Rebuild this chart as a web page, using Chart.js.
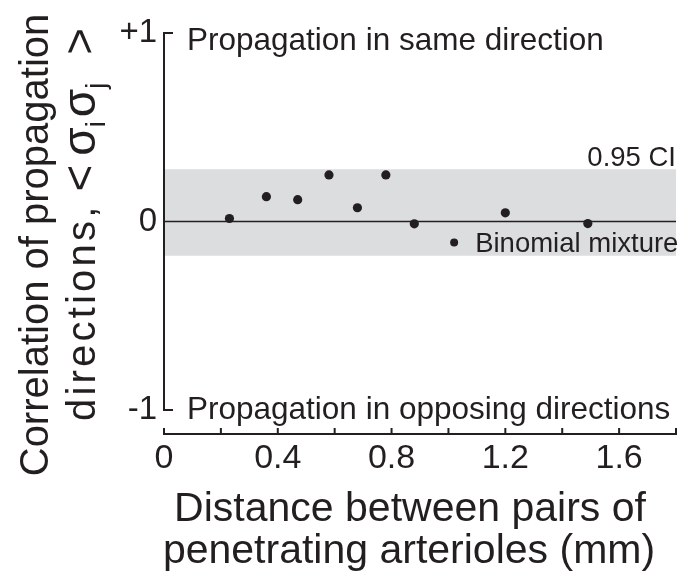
<!DOCTYPE html>
<html><head><meta charset="utf-8">
<script src="https://cdn.jsdelivr.net/npm/chart.js@4/dist/chart.umd.min.js"></script>
<style>html,body{margin:0;padding:0;background:#fff;overflow:hidden}#wrap{width:681px;height:575px}</style>
</head><body><div id="wrap"><canvas id="c" width="681" height="575"></canvas></div>
<script>
// ---- data ----
const distances    = [0.23, 0.36, 0.47, 0.58, 0.68, 0.78, 0.88, 1.20, 1.49];
const correlations = [0.016, 0.132, 0.116, 0.247, 0.073, 0.247, -0.012, 0.046, -0.011];
const ciLower = -0.181;
const ciUpper = 0.277;
const xRange = [0, 1.8];
const xLabelTicks = [0, 0.4, 0.8, 1.2, 1.6];
const xMarkTicks = [0, 0.2, 0.4, 0.6, 0.8, 1.0, 1.2, 1.4, 1.6, 1.8];
const yTickValues = [-1, 0, 1];
const yTickLabels = ['-1', '0', '+1'];
const legendMarker = [1.02, -0.111];

const FONT = '"Liberation Sans", Arial, Helvetica, sans-serif';
const INK = '#231f20';

function spacedText(ctx, str, x, y, extra) {
  let cx = x;
  for (const ch of str) { ctx.fillText(ch, cx, y); cx += ctx.measureText(ch).width + extra; }
  return cx - x;
}

const decor = {
  id: 'decor',
  afterDatasetsDraw(chart) {
    const {ctx, chartArea: a, scales: {x, y}} = chart;
    ctx.save();
    ctx.strokeStyle = INK; ctx.fillStyle = INK; ctx.lineWidth = 2;
    const x0 = x.getPixelForValue(0);
    const yTop = y.getPixelForValue(1), yBot = y.getPixelForValue(-1);
    ctx.beginPath();
    ctx.moveTo(x0 + 9, yTop); ctx.lineTo(x0, yTop); ctx.lineTo(x0, yBot); ctx.lineTo(x0 + 9, yBot);
    ctx.stroke();
    ctx.beginPath();
    xMarkTicks.forEach(v => { const px = x.getPixelForValue(v); ctx.moveTo(px, a.bottom); ctx.lineTo(px, a.bottom - 6); });
    ctx.stroke();

    // annotations
    ctx.textAlign = 'left'; ctx.textBaseline = 'alphabetic';
    ctx.font = '31.5px ' + FONT;
    ctx.fillText('Propagation in same direction', x0 + 23, 50);
    ctx.fillText('Propagation in opposing directions', x0 + 23, 419);
    ctx.font = '27.5px ' + FONT;
    ctx.textAlign = 'right';
    ctx.fillText('0.95 CI', a.right, 166);
    ctx.textAlign = 'left';
    ctx.fillText('Binomial mixture', x.getPixelForValue(legendMarker[0]) + 21, y.getPixelForValue(legendMarker[1]) + 10);

    // x title
    ctx.font = '41px ' + FONT;
    ctx.textAlign = 'center';
    ctx.fillText('Distance between pairs of', 410, 521);
    ctx.fillText('penetrating arterioles (mm)', 409, 563);

    // y title
    ctx.font = '40px ' + FONT;
    ctx.save();
    ctx.translate(48, 245);
    ctx.rotate(-Math.PI / 2);
    ctx.textAlign = 'center';
    ctx.fillText('Correlation of propagation', 0, 0);
    ctx.restore();

    ctx.save();
    ctx.translate(95, 421);
    ctx.rotate(-Math.PI / 2);
    ctx.textAlign = 'left';
    ctx.font = '40px ' + FONT;
    let cx = spacedText(ctx, 'directions,', 0, 0, 3.2) + 12;
    const sym = '46px ' + FONT, small = '27px ' + FONT;
    // [text, font, baseline shift, gap after]
    const parts = [['<', sym, 0, 9], ['\u03c3', sym, 0, 0], ['i', small, 10, 4],
                   ['\u03c3', sym, 0, 0], ['j', small, 10, 28], ['>', sym, 0, 0]];
    parts.forEach(p => { ctx.font = p[1]; ctx.fillText(p[0], cx, p[2]); cx += ctx.measureText(p[0]).width + p[3]; });
    ctx.restore();
    ctx.restore();
  }
};

new Chart(document.getElementById('c'), {
  type: 'scatter',
  data: {
    datasets: [
      { data: xRange.map(v => ({x: v, y: ciUpper})), showLine: true, borderWidth: 0, pointRadius: 0, fill: '+1', backgroundColor: '#dcdddf', order: 5 },
      { data: xRange.map(v => ({x: v, y: ciLower})), showLine: true, borderWidth: 0, pointRadius: 0, fill: false, order: 5 },
      { data: xRange.map(v => ({x: v, y: 0})), showLine: true, borderColor: INK, borderWidth: 1.5, pointRadius: 0, order: 4 },
      { data: distances.map((d, i) => ({x: d, y: correlations[i]})), pointRadius: 4.6, pointBackgroundColor: INK, pointBorderWidth: 0, order: 1 },
      { data: [{x: legendMarker[0], y: legendMarker[1]}], pointRadius: 4, pointBackgroundColor: INK, pointBorderWidth: 0, order: 1 }
    ]
  },
  options: {
    responsive: false, animation: false, devicePixelRatio: 1,
    layout: { padding: { top: 33, right: 5, left: 0, bottom: 0 } },
    plugins: { legend: { display: false }, tooltip: { enabled: false } },
    scales: {
      x: {
        type: 'linear', min: xRange[0], max: xRange[1],
        afterBuildTicks: s => { s.ticks = xLabelTicks.map(v => ({value: v})); },
        afterFit: s => { s.height = 141; },
        grid: { display: false, drawTicks: false },
        border: { display: true, color: INK, width: 2 },
        ticks: { padding: 4, color: INK, font: { family: FONT, size: 34 }, maxRotation: 0, autoSkip: false,
                 callback: v => String(v) }
      },
      y: {
        type: 'linear', min: -1.127, max: 1,
        afterBuildTicks: s => { s.ticks = yTickValues.map(v => ({value: v})); },
        afterFit: s => { s.width = 164; },
        grid: { display: false, drawTicks: false },
        border: { display: false },
        ticks: { padding: 7, color: INK, font: { family: FONT, size: 33 }, autoSkip: false,
                 callback: v => yTickLabels[yTickValues.indexOf(v)] }
      }
    }
  },
  plugins: [decor]
});
</script></body></html>
